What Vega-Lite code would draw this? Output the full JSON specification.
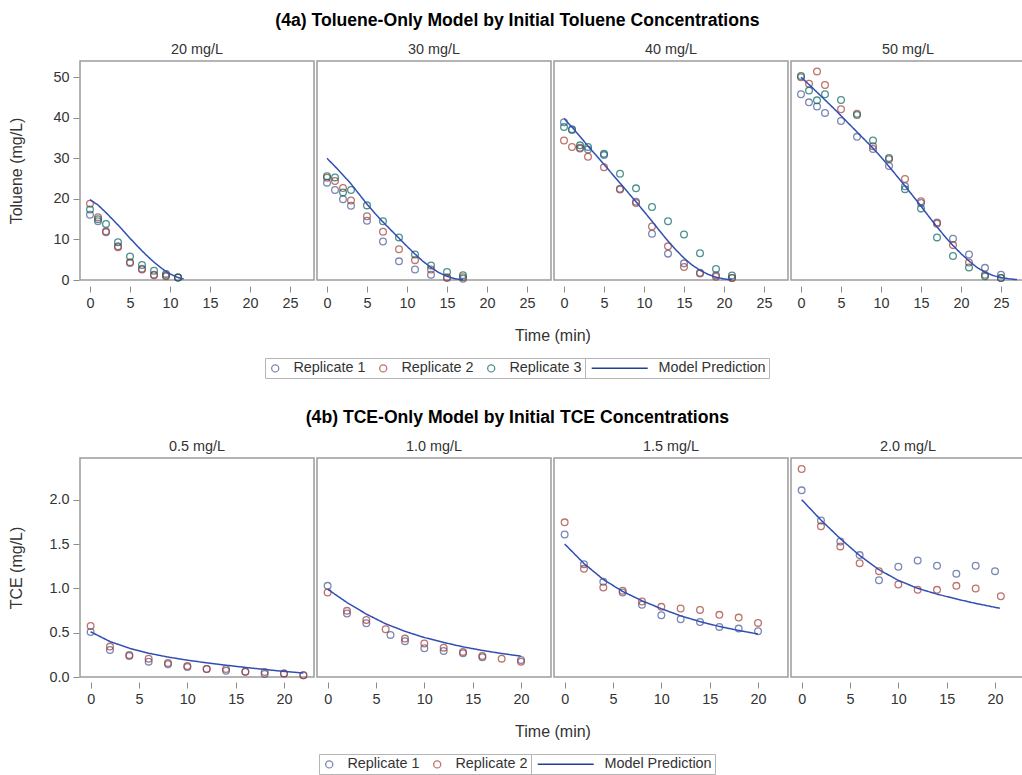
{
  "$schema": "https://vega.github.io/schema/vega-lite/v6.json",
  "padding": {"left": 8, "top": 12, "right": 0, "bottom": 0},
  "config": {
    "font": "Liberation Sans",
    "view": {"stroke": "#9c9c9c", "strokeWidth": 1.5},
    "axis": {"grid": false, "domain": false, "tickColor": "#8a8a8a", "tickSize": 6, "labelFontSize": 14.4, "labelColor": "#333333", "titleFontSize": 16, "titleFontWeight": "normal", "titleColor": "#333333", "labelPadding": 4},
    "header": {"labelFontSize": 14.4, "labelColor": "#333333", "labelPadding": 3, "titleFontSize": 16, "titleFontWeight": "normal", "titleColor": "#333333", "titlePadding": 8},
    "title": {"fontSize": 17.6, "fontWeight": "bold", "color": "#000000", "anchor": "middle", "offset": 12},
    "legend": {"layout": {"bottom": {"anchor": "middle", "margin": 0}}, "labelFontSize": 14.4, "labelColor": "#333333", "padding": 3, "strokeColor": "#b5b5b5", "orient": "bottom", "direction": "horizontal", "offset": 14},
    "concat": {"spacing": 30}
  },
  "datasets": {
    "tol": [
      {"p":"20 mg/L","s":"Replicate 1","t":0,"v":16.1},{"p":"20 mg/L","s":"Replicate 1","t":1,"v":14.5},{"p":"20 mg/L","s":"Replicate 1","t":2,"v":11.8},{"p":"20 mg/L","s":"Replicate 1","t":3.5,"v":8.3},{"p":"20 mg/L","s":"Replicate 1","t":5,"v":4.2},{"p":"20 mg/L","s":"Replicate 1","t":6.5,"v":2.8},{"p":"20 mg/L","s":"Replicate 1","t":8,"v":1.3},{"p":"20 mg/L","s":"Replicate 1","t":9.5,"v":1.1},{"p":"20 mg/L","s":"Replicate 1","t":11,"v":0.6},
      {"p":"20 mg/L","s":"Replicate 2","t":0,"v":18.8},{"p":"20 mg/L","s":"Replicate 2","t":1,"v":15.5},{"p":"20 mg/L","s":"Replicate 2","t":2,"v":12.0},{"p":"20 mg/L","s":"Replicate 2","t":3.5,"v":8.1},{"p":"20 mg/L","s":"Replicate 2","t":5,"v":4.4},{"p":"20 mg/L","s":"Replicate 2","t":6.5,"v":2.6},{"p":"20 mg/L","s":"Replicate 2","t":8,"v":1.2},{"p":"20 mg/L","s":"Replicate 2","t":9.5,"v":0.9},{"p":"20 mg/L","s":"Replicate 2","t":11,"v":0.6},
      {"p":"20 mg/L","s":"Replicate 3","t":0,"v":17.4},{"p":"20 mg/L","s":"Replicate 3","t":1,"v":15.0},{"p":"20 mg/L","s":"Replicate 3","t":2,"v":13.8},{"p":"20 mg/L","s":"Replicate 3","t":3.5,"v":9.3},{"p":"20 mg/L","s":"Replicate 3","t":5,"v":5.8},{"p":"20 mg/L","s":"Replicate 3","t":6.5,"v":3.7},{"p":"20 mg/L","s":"Replicate 3","t":8,"v":2.3},{"p":"20 mg/L","s":"Replicate 3","t":9.5,"v":1.5},{"p":"20 mg/L","s":"Replicate 3","t":11,"v":0.6},
      {"p":"20 mg/L","s":"Model Prediction","t":0,"v":19.8},{"p":"20 mg/L","s":"Model Prediction","t":1,"v":18.5},{"p":"20 mg/L","s":"Model Prediction","t":2,"v":16.6},{"p":"20 mg/L","s":"Model Prediction","t":3,"v":14.6},{"p":"20 mg/L","s":"Model Prediction","t":4,"v":12.5},{"p":"20 mg/L","s":"Model Prediction","t":5,"v":10.3},{"p":"20 mg/L","s":"Model Prediction","t":6,"v":8.2},{"p":"20 mg/L","s":"Model Prediction","t":7,"v":6.2},{"p":"20 mg/L","s":"Model Prediction","t":8,"v":4.4},{"p":"20 mg/L","s":"Model Prediction","t":9,"v":2.8},{"p":"20 mg/L","s":"Model Prediction","t":10,"v":1.5},{"p":"20 mg/L","s":"Model Prediction","t":11,"v":0.6},{"p":"20 mg/L","s":"Model Prediction","t":11.7,"v":0.25},

      {"p":"30 mg/L","s":"Replicate 1","t":0,"v":24.0},{"p":"30 mg/L","s":"Replicate 1","t":1,"v":22.2},{"p":"30 mg/L","s":"Replicate 1","t":2,"v":19.9},{"p":"30 mg/L","s":"Replicate 1","t":3,"v":18.3},{"p":"30 mg/L","s":"Replicate 1","t":5,"v":14.6},{"p":"30 mg/L","s":"Replicate 1","t":7,"v":9.5},{"p":"30 mg/L","s":"Replicate 1","t":9,"v":4.6},{"p":"30 mg/L","s":"Replicate 1","t":11,"v":2.6},{"p":"30 mg/L","s":"Replicate 1","t":13,"v":1.3},{"p":"30 mg/L","s":"Replicate 1","t":15,"v":0.5},{"p":"30 mg/L","s":"Replicate 1","t":17,"v":0.3},
      {"p":"30 mg/L","s":"Replicate 2","t":0,"v":25.2},{"p":"30 mg/L","s":"Replicate 2","t":1,"v":24.4},{"p":"30 mg/L","s":"Replicate 2","t":2,"v":22.7},{"p":"30 mg/L","s":"Replicate 2","t":3,"v":19.6},{"p":"30 mg/L","s":"Replicate 2","t":5,"v":15.7},{"p":"30 mg/L","s":"Replicate 2","t":7,"v":11.9},{"p":"30 mg/L","s":"Replicate 2","t":9,"v":7.6},{"p":"30 mg/L","s":"Replicate 2","t":11,"v":4.9},{"p":"30 mg/L","s":"Replicate 2","t":13,"v":2.6},{"p":"30 mg/L","s":"Replicate 2","t":15,"v":0.7},{"p":"30 mg/L","s":"Replicate 2","t":17,"v":0.7},
      {"p":"30 mg/L","s":"Replicate 3","t":0,"v":25.6},{"p":"30 mg/L","s":"Replicate 3","t":1,"v":25.3},{"p":"30 mg/L","s":"Replicate 3","t":2,"v":21.6},{"p":"30 mg/L","s":"Replicate 3","t":3,"v":22.2},{"p":"30 mg/L","s":"Replicate 3","t":5,"v":18.4},{"p":"30 mg/L","s":"Replicate 3","t":7,"v":14.5},{"p":"30 mg/L","s":"Replicate 3","t":9,"v":10.5},{"p":"30 mg/L","s":"Replicate 3","t":11,"v":6.3},{"p":"30 mg/L","s":"Replicate 3","t":13,"v":3.6},{"p":"30 mg/L","s":"Replicate 3","t":15,"v":2.0},{"p":"30 mg/L","s":"Replicate 3","t":17,"v":1.2},
      {"p":"30 mg/L","s":"Model Prediction","t":0,"v":30.0},{"p":"30 mg/L","s":"Model Prediction","t":1,"v":28.0},{"p":"30 mg/L","s":"Model Prediction","t":2,"v":25.9},{"p":"30 mg/L","s":"Model Prediction","t":3,"v":23.7},{"p":"30 mg/L","s":"Model Prediction","t":4,"v":21.2},{"p":"30 mg/L","s":"Model Prediction","t":5,"v":18.7},{"p":"30 mg/L","s":"Model Prediction","t":6,"v":16.4},{"p":"30 mg/L","s":"Model Prediction","t":7,"v":14.3},{"p":"30 mg/L","s":"Model Prediction","t":8,"v":12.3},{"p":"30 mg/L","s":"Model Prediction","t":9,"v":10.3},{"p":"30 mg/L","s":"Model Prediction","t":10,"v":8.3},{"p":"30 mg/L","s":"Model Prediction","t":11,"v":6.4},{"p":"30 mg/L","s":"Model Prediction","t":12,"v":4.6},{"p":"30 mg/L","s":"Model Prediction","t":13,"v":3.1},{"p":"30 mg/L","s":"Model Prediction","t":14,"v":1.8},{"p":"30 mg/L","s":"Model Prediction","t":15,"v":0.9},{"p":"30 mg/L","s":"Model Prediction","t":16,"v":0.3},{"p":"30 mg/L","s":"Model Prediction","t":17,"v":0.05},

      {"p":"40 mg/L","s":"Replicate 1","t":0,"v":38.9},{"p":"40 mg/L","s":"Replicate 1","t":1,"v":37.2},{"p":"40 mg/L","s":"Replicate 1","t":2,"v":32.4},{"p":"40 mg/L","s":"Replicate 1","t":3,"v":32.2},{"p":"40 mg/L","s":"Replicate 1","t":5,"v":30.8},{"p":"40 mg/L","s":"Replicate 1","t":7,"v":22.5},{"p":"40 mg/L","s":"Replicate 1","t":9,"v":19.3},{"p":"40 mg/L","s":"Replicate 1","t":11,"v":11.4},{"p":"40 mg/L","s":"Replicate 1","t":13,"v":6.5},{"p":"40 mg/L","s":"Replicate 1","t":15,"v":4.1},{"p":"40 mg/L","s":"Replicate 1","t":17,"v":1.8},{"p":"40 mg/L","s":"Replicate 1","t":19,"v":1.2},{"p":"40 mg/L","s":"Replicate 1","t":21,"v":0.5},
      {"p":"40 mg/L","s":"Replicate 2","t":0,"v":34.4},{"p":"40 mg/L","s":"Replicate 2","t":1,"v":32.8},{"p":"40 mg/L","s":"Replicate 2","t":2,"v":32.6},{"p":"40 mg/L","s":"Replicate 2","t":3,"v":30.4},{"p":"40 mg/L","s":"Replicate 2","t":5,"v":27.8},{"p":"40 mg/L","s":"Replicate 2","t":7,"v":22.3},{"p":"40 mg/L","s":"Replicate 2","t":9,"v":19.0},{"p":"40 mg/L","s":"Replicate 2","t":11,"v":13.2},{"p":"40 mg/L","s":"Replicate 2","t":13,"v":8.3},{"p":"40 mg/L","s":"Replicate 2","t":15,"v":3.2},{"p":"40 mg/L","s":"Replicate 2","t":17,"v":1.6},{"p":"40 mg/L","s":"Replicate 2","t":19,"v":0.8},{"p":"40 mg/L","s":"Replicate 2","t":21,"v":0.5},
      {"p":"40 mg/L","s":"Replicate 3","t":0,"v":37.7},{"p":"40 mg/L","s":"Replicate 3","t":1,"v":37.0},{"p":"40 mg/L","s":"Replicate 3","t":2,"v":33.2},{"p":"40 mg/L","s":"Replicate 3","t":3,"v":32.8},{"p":"40 mg/L","s":"Replicate 3","t":5,"v":31.1},{"p":"40 mg/L","s":"Replicate 3","t":7,"v":26.2},{"p":"40 mg/L","s":"Replicate 3","t":9,"v":22.6},{"p":"40 mg/L","s":"Replicate 3","t":11,"v":18.0},{"p":"40 mg/L","s":"Replicate 3","t":13,"v":14.5},{"p":"40 mg/L","s":"Replicate 3","t":15,"v":11.2},{"p":"40 mg/L","s":"Replicate 3","t":17,"v":6.6},{"p":"40 mg/L","s":"Replicate 3","t":19,"v":2.7},{"p":"40 mg/L","s":"Replicate 3","t":21,"v":1.1},
      {"p":"40 mg/L","s":"Model Prediction","t":0,"v":39.8},{"p":"40 mg/L","s":"Model Prediction","t":1,"v":37.7},{"p":"40 mg/L","s":"Model Prediction","t":2,"v":35.4},{"p":"40 mg/L","s":"Model Prediction","t":3,"v":33.0},{"p":"40 mg/L","s":"Model Prediction","t":4,"v":30.8},{"p":"40 mg/L","s":"Model Prediction","t":5,"v":28.5},{"p":"40 mg/L","s":"Model Prediction","t":6,"v":26.2},{"p":"40 mg/L","s":"Model Prediction","t":7,"v":23.9},{"p":"40 mg/L","s":"Model Prediction","t":8,"v":21.6},{"p":"40 mg/L","s":"Model Prediction","t":9,"v":19.3},{"p":"40 mg/L","s":"Model Prediction","t":10,"v":16.9},{"p":"40 mg/L","s":"Model Prediction","t":11,"v":14.5},{"p":"40 mg/L","s":"Model Prediction","t":12,"v":12.0},{"p":"40 mg/L","s":"Model Prediction","t":13,"v":9.6},{"p":"40 mg/L","s":"Model Prediction","t":14,"v":7.4},{"p":"40 mg/L","s":"Model Prediction","t":15,"v":5.4},{"p":"40 mg/L","s":"Model Prediction","t":16,"v":3.7},{"p":"40 mg/L","s":"Model Prediction","t":17,"v":2.4},{"p":"40 mg/L","s":"Model Prediction","t":18,"v":1.4},{"p":"40 mg/L","s":"Model Prediction","t":19,"v":0.7},{"p":"40 mg/L","s":"Model Prediction","t":20,"v":0.25},{"p":"40 mg/L","s":"Model Prediction","t":21,"v":0.05},

      {"p":"50 mg/L","s":"Replicate 1","t":0,"v":45.8},{"p":"50 mg/L","s":"Replicate 1","t":1,"v":43.8},{"p":"50 mg/L","s":"Replicate 1","t":2,"v":42.8},{"p":"50 mg/L","s":"Replicate 1","t":3,"v":41.2},{"p":"50 mg/L","s":"Replicate 1","t":5,"v":39.2},{"p":"50 mg/L","s":"Replicate 1","t":7,"v":35.3},{"p":"50 mg/L","s":"Replicate 1","t":9,"v":32.3},{"p":"50 mg/L","s":"Replicate 1","t":11,"v":28.1},{"p":"50 mg/L","s":"Replicate 1","t":13,"v":23.1},{"p":"50 mg/L","s":"Replicate 1","t":15,"v":19.0},{"p":"50 mg/L","s":"Replicate 1","t":17,"v":14.2},{"p":"50 mg/L","s":"Replicate 1","t":19,"v":10.2},{"p":"50 mg/L","s":"Replicate 1","t":21,"v":6.3},{"p":"50 mg/L","s":"Replicate 1","t":23,"v":3.0},{"p":"50 mg/L","s":"Replicate 1","t":25,"v":1.3},
      {"p":"50 mg/L","s":"Replicate 2","t":0,"v":50.0},{"p":"50 mg/L","s":"Replicate 2","t":1,"v":48.4},{"p":"50 mg/L","s":"Replicate 2","t":2,"v":51.4},{"p":"50 mg/L","s":"Replicate 2","t":3,"v":48.1},{"p":"50 mg/L","s":"Replicate 2","t":5,"v":42.1},{"p":"50 mg/L","s":"Replicate 2","t":7,"v":41.0},{"p":"50 mg/L","s":"Replicate 2","t":9,"v":33.0},{"p":"50 mg/L","s":"Replicate 2","t":11,"v":29.8},{"p":"50 mg/L","s":"Replicate 2","t":13,"v":24.9},{"p":"50 mg/L","s":"Replicate 2","t":15,"v":19.4},{"p":"50 mg/L","s":"Replicate 2","t":17,"v":13.9},{"p":"50 mg/L","s":"Replicate 2","t":19,"v":8.6},{"p":"50 mg/L","s":"Replicate 2","t":21,"v":4.3},{"p":"50 mg/L","s":"Replicate 2","t":23,"v":1.3},{"p":"50 mg/L","s":"Replicate 2","t":25,"v":0.5},
      {"p":"50 mg/L","s":"Replicate 3","t":0,"v":50.3},{"p":"50 mg/L","s":"Replicate 3","t":1,"v":46.7},{"p":"50 mg/L","s":"Replicate 3","t":2,"v":44.3},{"p":"50 mg/L","s":"Replicate 3","t":3,"v":45.8},{"p":"50 mg/L","s":"Replicate 3","t":5,"v":44.4},{"p":"50 mg/L","s":"Replicate 3","t":7,"v":40.7},{"p":"50 mg/L","s":"Replicate 3","t":9,"v":34.4},{"p":"50 mg/L","s":"Replicate 3","t":11,"v":30.1},{"p":"50 mg/L","s":"Replicate 3","t":13,"v":22.4},{"p":"50 mg/L","s":"Replicate 3","t":15,"v":17.6},{"p":"50 mg/L","s":"Replicate 3","t":17,"v":10.5},{"p":"50 mg/L","s":"Replicate 3","t":19,"v":5.9},{"p":"50 mg/L","s":"Replicate 3","t":21,"v":3.1},{"p":"50 mg/L","s":"Replicate 3","t":23,"v":0.9},{"p":"50 mg/L","s":"Replicate 3","t":25,"v":0.5},
      {"p":"50 mg/L","s":"Model Prediction","t":0,"v":50.0},{"p":"50 mg/L","s":"Model Prediction","t":1,"v":48.2},{"p":"50 mg/L","s":"Model Prediction","t":2,"v":46.3},{"p":"50 mg/L","s":"Model Prediction","t":3,"v":44.4},{"p":"50 mg/L","s":"Model Prediction","t":4,"v":42.5},{"p":"50 mg/L","s":"Model Prediction","t":5,"v":40.5},{"p":"50 mg/L","s":"Model Prediction","t":6,"v":38.5},{"p":"50 mg/L","s":"Model Prediction","t":7,"v":36.5},{"p":"50 mg/L","s":"Model Prediction","t":8,"v":34.5},{"p":"50 mg/L","s":"Model Prediction","t":9,"v":32.5},{"p":"50 mg/L","s":"Model Prediction","t":10,"v":30.3},{"p":"50 mg/L","s":"Model Prediction","t":11,"v":28.0},{"p":"50 mg/L","s":"Model Prediction","t":12,"v":25.6},{"p":"50 mg/L","s":"Model Prediction","t":13,"v":23.2},{"p":"50 mg/L","s":"Model Prediction","t":14,"v":20.7},{"p":"50 mg/L","s":"Model Prediction","t":15,"v":18.2},{"p":"50 mg/L","s":"Model Prediction","t":16,"v":15.6},{"p":"50 mg/L","s":"Model Prediction","t":17,"v":13.1},{"p":"50 mg/L","s":"Model Prediction","t":18,"v":10.7},{"p":"50 mg/L","s":"Model Prediction","t":19,"v":8.5},{"p":"50 mg/L","s":"Model Prediction","t":20,"v":6.5},{"p":"50 mg/L","s":"Model Prediction","t":21,"v":4.7},{"p":"50 mg/L","s":"Model Prediction","t":22,"v":3.1},{"p":"50 mg/L","s":"Model Prediction","t":23,"v":1.9},{"p":"50 mg/L","s":"Model Prediction","t":24,"v":1.1},{"p":"50 mg/L","s":"Model Prediction","t":25,"v":0.6},{"p":"50 mg/L","s":"Model Prediction","t":26,"v":0.3},{"p":"50 mg/L","s":"Model Prediction","t":27,"v":0.1}
    ],
    "tce": [
      {"p":"0.5 mg/L","s":"Replicate 1","t":0,"v":0.508},{"p":"0.5 mg/L","s":"Replicate 1","t":2,"v":0.305},{"p":"0.5 mg/L","s":"Replicate 1","t":4,"v":0.237},{"p":"0.5 mg/L","s":"Replicate 1","t":6,"v":0.173},{"p":"0.5 mg/L","s":"Replicate 1","t":8,"v":0.143},{"p":"0.5 mg/L","s":"Replicate 1","t":10,"v":0.113},{"p":"0.5 mg/L","s":"Replicate 1","t":12,"v":0.09},{"p":"0.5 mg/L","s":"Replicate 1","t":14,"v":0.07},{"p":"0.5 mg/L","s":"Replicate 1","t":16,"v":0.06},{"p":"0.5 mg/L","s":"Replicate 1","t":18,"v":0.034},{"p":"0.5 mg/L","s":"Replicate 1","t":20,"v":0.04},{"p":"0.5 mg/L","s":"Replicate 1","t":22,"v":0.02},
      {"p":"0.5 mg/L","s":"Replicate 2","t":0,"v":0.576},{"p":"0.5 mg/L","s":"Replicate 2","t":2,"v":0.343},{"p":"0.5 mg/L","s":"Replicate 2","t":4,"v":0.249},{"p":"0.5 mg/L","s":"Replicate 2","t":6,"v":0.207},{"p":"0.5 mg/L","s":"Replicate 2","t":8,"v":0.158},{"p":"0.5 mg/L","s":"Replicate 2","t":10,"v":0.124},{"p":"0.5 mg/L","s":"Replicate 2","t":12,"v":0.09},{"p":"0.5 mg/L","s":"Replicate 2","t":14,"v":0.09},{"p":"0.5 mg/L","s":"Replicate 2","t":16,"v":0.06},{"p":"0.5 mg/L","s":"Replicate 2","t":18,"v":0.056},{"p":"0.5 mg/L","s":"Replicate 2","t":20,"v":0.04},{"p":"0.5 mg/L","s":"Replicate 2","t":22,"v":0.02},
      {"p":"0.5 mg/L","s":"Model Prediction","t":0,"v":0.51},{"p":"0.5 mg/L","s":"Model Prediction","t":2,"v":0.40},{"p":"0.5 mg/L","s":"Model Prediction","t":4,"v":0.325},{"p":"0.5 mg/L","s":"Model Prediction","t":6,"v":0.268},{"p":"0.5 mg/L","s":"Model Prediction","t":8,"v":0.225},{"p":"0.5 mg/L","s":"Model Prediction","t":10,"v":0.19},{"p":"0.5 mg/L","s":"Model Prediction","t":12,"v":0.16},{"p":"0.5 mg/L","s":"Model Prediction","t":14,"v":0.133},{"p":"0.5 mg/L","s":"Model Prediction","t":16,"v":0.108},{"p":"0.5 mg/L","s":"Model Prediction","t":18,"v":0.085},{"p":"0.5 mg/L","s":"Model Prediction","t":20,"v":0.063},{"p":"0.5 mg/L","s":"Model Prediction","t":22,"v":0.045},

      {"p":"1.0 mg/L","s":"Replicate 1","t":0,"v":1.028},{"p":"1.0 mg/L","s":"Replicate 1","t":2,"v":0.716},{"p":"1.0 mg/L","s":"Replicate 1","t":4,"v":0.606},{"p":"1.0 mg/L","s":"Replicate 1","t":6.5,"v":0.475},{"p":"1.0 mg/L","s":"Replicate 1","t":8,"v":0.403},{"p":"1.0 mg/L","s":"Replicate 1","t":10,"v":0.324},{"p":"1.0 mg/L","s":"Replicate 1","t":12,"v":0.294},{"p":"1.0 mg/L","s":"Replicate 1","t":14,"v":0.268},{"p":"1.0 mg/L","s":"Replicate 1","t":16,"v":0.222},{"p":"1.0 mg/L","s":"Replicate 1","t":20,"v":0.192},
      {"p":"1.0 mg/L","s":"Replicate 2","t":0,"v":0.953},{"p":"1.0 mg/L","s":"Replicate 2","t":2,"v":0.746},{"p":"1.0 mg/L","s":"Replicate 2","t":4,"v":0.644},{"p":"1.0 mg/L","s":"Replicate 2","t":6,"v":0.539},{"p":"1.0 mg/L","s":"Replicate 2","t":8,"v":0.433},{"p":"1.0 mg/L","s":"Replicate 2","t":10,"v":0.377},{"p":"1.0 mg/L","s":"Replicate 2","t":12,"v":0.331},{"p":"1.0 mg/L","s":"Replicate 2","t":14,"v":0.283},{"p":"1.0 mg/L","s":"Replicate 2","t":16,"v":0.237},{"p":"1.0 mg/L","s":"Replicate 2","t":18,"v":0.207},{"p":"1.0 mg/L","s":"Replicate 2","t":20,"v":0.173},
      {"p":"1.0 mg/L","s":"Model Prediction","t":0,"v":0.99},{"p":"1.0 mg/L","s":"Model Prediction","t":2,"v":0.84},{"p":"1.0 mg/L","s":"Model Prediction","t":4,"v":0.71},{"p":"1.0 mg/L","s":"Model Prediction","t":6,"v":0.60},{"p":"1.0 mg/L","s":"Model Prediction","t":8,"v":0.515},{"p":"1.0 mg/L","s":"Model Prediction","t":10,"v":0.445},{"p":"1.0 mg/L","s":"Model Prediction","t":12,"v":0.39},{"p":"1.0 mg/L","s":"Model Prediction","t":14,"v":0.34},{"p":"1.0 mg/L","s":"Model Prediction","t":16,"v":0.30},{"p":"1.0 mg/L","s":"Model Prediction","t":18,"v":0.265},{"p":"1.0 mg/L","s":"Model Prediction","t":20,"v":0.235},

      {"p":"1.5 mg/L","s":"Replicate 1","t":0,"v":1.608},{"p":"1.5 mg/L","s":"Replicate 1","t":2,"v":1.273},{"p":"1.5 mg/L","s":"Replicate 1","t":4,"v":1.073},{"p":"1.5 mg/L","s":"Replicate 1","t":6,"v":0.953},{"p":"1.5 mg/L","s":"Replicate 1","t":8,"v":0.814},{"p":"1.5 mg/L","s":"Replicate 1","t":10,"v":0.697},{"p":"1.5 mg/L","s":"Replicate 1","t":12,"v":0.652},{"p":"1.5 mg/L","s":"Replicate 1","t":14,"v":0.621},{"p":"1.5 mg/L","s":"Replicate 1","t":16,"v":0.565},{"p":"1.5 mg/L","s":"Replicate 1","t":18,"v":0.546},{"p":"1.5 mg/L","s":"Replicate 1","t":20,"v":0.516},
      {"p":"1.5 mg/L","s":"Replicate 2","t":0,"v":1.744},{"p":"1.5 mg/L","s":"Replicate 2","t":2,"v":1.220},{"p":"1.5 mg/L","s":"Replicate 2","t":4,"v":1.009},{"p":"1.5 mg/L","s":"Replicate 2","t":6,"v":0.972},{"p":"1.5 mg/L","s":"Replicate 2","t":8,"v":0.851},{"p":"1.5 mg/L","s":"Replicate 2","t":10,"v":0.791},{"p":"1.5 mg/L","s":"Replicate 2","t":12,"v":0.772},{"p":"1.5 mg/L","s":"Replicate 2","t":14,"v":0.757},{"p":"1.5 mg/L","s":"Replicate 2","t":16,"v":0.701},{"p":"1.5 mg/L","s":"Replicate 2","t":18,"v":0.670},{"p":"1.5 mg/L","s":"Replicate 2","t":20,"v":0.610},
      {"p":"1.5 mg/L","s":"Model Prediction","t":0,"v":1.50},{"p":"1.5 mg/L","s":"Model Prediction","t":2,"v":1.28},{"p":"1.5 mg/L","s":"Model Prediction","t":4,"v":1.10},{"p":"1.5 mg/L","s":"Model Prediction","t":6,"v":0.965},{"p":"1.5 mg/L","s":"Model Prediction","t":8,"v":0.86},{"p":"1.5 mg/L","s":"Model Prediction","t":10,"v":0.77},{"p":"1.5 mg/L","s":"Model Prediction","t":12,"v":0.69},{"p":"1.5 mg/L","s":"Model Prediction","t":14,"v":0.625},{"p":"1.5 mg/L","s":"Model Prediction","t":16,"v":0.57},{"p":"1.5 mg/L","s":"Model Prediction","t":18,"v":0.525},{"p":"1.5 mg/L","s":"Model Prediction","t":20,"v":0.485},

      {"p":"2.0 mg/L","s":"Replicate 1","t":0,"v":2.105},{"p":"2.0 mg/L","s":"Replicate 1","t":2,"v":1.766},{"p":"2.0 mg/L","s":"Replicate 1","t":4,"v":1.529},{"p":"2.0 mg/L","s":"Replicate 1","t":6,"v":1.375},{"p":"2.0 mg/L","s":"Replicate 1","t":8,"v":1.092},{"p":"2.0 mg/L","s":"Replicate 1","t":10,"v":1.243},{"p":"2.0 mg/L","s":"Replicate 1","t":12,"v":1.314},{"p":"2.0 mg/L","s":"Replicate 1","t":14,"v":1.254},{"p":"2.0 mg/L","s":"Replicate 1","t":16,"v":1.164},{"p":"2.0 mg/L","s":"Replicate 1","t":18,"v":1.254},{"p":"2.0 mg/L","s":"Replicate 1","t":20,"v":1.194},
      {"p":"2.0 mg/L","s":"Replicate 2","t":0,"v":2.346},{"p":"2.0 mg/L","s":"Replicate 2","t":2,"v":1.699},{"p":"2.0 mg/L","s":"Replicate 2","t":4,"v":1.473},{"p":"2.0 mg/L","s":"Replicate 2","t":6,"v":1.284},{"p":"2.0 mg/L","s":"Replicate 2","t":8,"v":1.194},{"p":"2.0 mg/L","s":"Replicate 2","t":10,"v":1.043},{"p":"2.0 mg/L","s":"Replicate 2","t":12,"v":0.983},{"p":"2.0 mg/L","s":"Replicate 2","t":14,"v":0.983},{"p":"2.0 mg/L","s":"Replicate 2","t":16,"v":1.028},{"p":"2.0 mg/L","s":"Replicate 2","t":18,"v":0.998},{"p":"2.0 mg/L","s":"Replicate 2","t":20.6,"v":0.911},
      {"p":"2.0 mg/L","s":"Model Prediction","t":0,"v":2.0},{"p":"2.0 mg/L","s":"Model Prediction","t":2,"v":1.77},{"p":"2.0 mg/L","s":"Model Prediction","t":4,"v":1.56},{"p":"2.0 mg/L","s":"Model Prediction","t":6,"v":1.37},{"p":"2.0 mg/L","s":"Model Prediction","t":8,"v":1.21},{"p":"2.0 mg/L","s":"Model Prediction","t":10,"v":1.09},{"p":"2.0 mg/L","s":"Model Prediction","t":12,"v":1.0},{"p":"2.0 mg/L","s":"Model Prediction","t":14,"v":0.935},{"p":"2.0 mg/L","s":"Model Prediction","t":16,"v":0.88},{"p":"2.0 mg/L","s":"Model Prediction","t":18,"v":0.83},{"p":"2.0 mg/L","s":"Model Prediction","t":20.5,"v":0.775}
    ]
  },
  "vconcat": [
    {
      "data": {"name": "tol"},
      "title": "(4a) Toluene-Only Model by Initial Toluene Concentrations",
      "facet": {"column": {"field": "p", "type": "ordinal", "sort": ["20 mg/L", "30 mg/L", "40 mg/L", "50 mg/L"], "title": "Time (min)", "header": {"labelOrient": "top", "titleOrient": "bottom"}}},
      "spacing": 1,
      "spec": {
        "width": 234,
        "height": 219,
        "layer": [
          {
            "transform": [{"filter": "datum.s != 'Model Prediction'"}],
            "mark": {"type": "point", "shape": "circle", "filled": false, "size": 45, "strokeWidth": 1.3},
            "encoding": {
              "x": {"field": "t", "type": "quantitative", "scale": {"domain": [-1.25, 28.0], "nice": false, "zero": false}, "axis": {"values": [0, 5, 10, 15, 20, 25], "title": null}},
              "y": {"field": "v", "type": "quantitative", "scale": {"domain": [0, 54], "nice": false}, "axis": {"values": [0, 10, 20, 30, 40, 50], "title": "Toluene (mg/L)", "titlePadding": 28}},
              "color": {"field": "s", "type": "nominal", "scale": {"domain": ["Replicate 1", "Replicate 2", "Replicate 3"], "range": ["#445694", "#A23A2E", "#01665E"]}, "legend": {"title": null, "symbolType": "circle", "symbolSize": 50, "symbolStrokeWidth": 1.3, "columnPadding": 10, "labelOffset": 11}}
            }
          },
          {
            "transform": [{"filter": "datum.s == 'Model Prediction'"}],
            "mark": {"type": "line", "color": "#2f4fb5", "strokeWidth": 1.5},
            "encoding": {
              "x": {"field": "t", "type": "quantitative"},
              "y": {"field": "v", "type": "quantitative"},
              "strokeDash": {"field": "s", "type": "nominal", "scale": {"domain": ["Model Prediction"], "range": [[1, 0]]}, "legend": {"title": null, "symbolType": "M -1,0 H 15", "symbolSize": 49, "symbolStrokeColor": "#1f3f99", "symbolStrokeWidth": 1.5, "labelOffset": 56}}
            }
          }
        ]
      }
    },
    {
      "data": {"name": "tce"},
      "title": "(4b) TCE-Only Model by Initial TCE Concentrations",
      "facet": {"column": {"field": "p", "type": "ordinal", "sort": ["0.5 mg/L", "1.0 mg/L", "1.5 mg/L", "2.0 mg/L"], "title": "Time (min)", "header": {"labelOrient": "top", "titleOrient": "bottom"}}},
      "spacing": 1,
      "spec": {
        "width": 234,
        "height": 219,
        "layer": [
          {
            "transform": [{"filter": "datum.s != 'Model Prediction'"}],
            "mark": {"type": "point", "shape": "circle", "filled": false, "size": 45, "strokeWidth": 1.3},
            "encoding": {
              "x": {"field": "t", "type": "quantitative", "scale": {"domain": [-1.1, 23.1], "nice": false, "zero": false}, "axis": {"values": [0, 5, 10, 15, 20], "title": null}},
              "y": {"field": "v", "type": "quantitative", "scale": {"domain": [0, 2.47], "nice": false}, "axis": {"values": [0, 0.5, 1, 1.5, 2], "format": ".1f", "title": "TCE (mg/L)", "titlePadding": 24}},
              "color": {"field": "s", "type": "nominal", "scale": {"domain": ["Replicate 1", "Replicate 2"], "range": ["#445694", "#A23A2E"]}, "legend": {"title": null, "symbolType": "circle", "symbolSize": 50, "symbolStrokeWidth": 1.3, "columnPadding": 10, "labelOffset": 11}}
            }
          },
          {
            "transform": [{"filter": "datum.s == 'Model Prediction'"}],
            "mark": {"type": "line", "color": "#2f4fb5", "strokeWidth": 1.5},
            "encoding": {
              "x": {"field": "t", "type": "quantitative"},
              "y": {"field": "v", "type": "quantitative"},
              "strokeDash": {"field": "s", "type": "nominal", "scale": {"domain": ["Model Prediction"], "range": [[1, 0]]}, "legend": {"title": null, "symbolType": "M -1,0 H 15", "symbolSize": 49, "symbolStrokeColor": "#1f3f99", "symbolStrokeWidth": 1.5, "labelOffset": 56}}
            }
          }
        ]
      }
    }
  ],
  "resolve": {"scale": {"color": "independent", "strokeDash": "independent"}, "legend": {"color": "independent", "strokeDash": "independent"}}
}
